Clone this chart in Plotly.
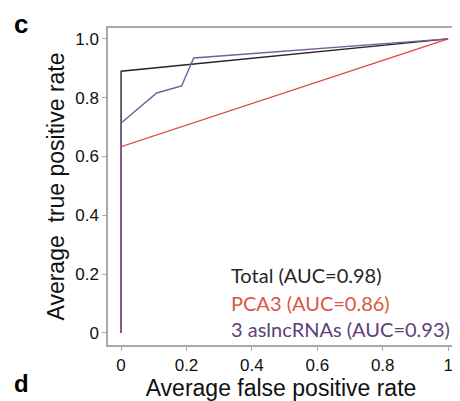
import plotly.graph_objects as go

# Data
total_fpr = [0, 0, 1]
total_tpr = [0, 0.89, 1]
pca3_fpr = [0, 0, 1]
pca3_tpr = [0, 0.633, 1]
lnc_fpr = [0, 0, 0.109, 0.185, 0.222, 1]
lnc_tpr = [0, 0.714, 0.816, 0.840, 0.935, 1]

x_ticks = [0, 0.2, 0.4, 0.6, 0.8, 1]
x_ticktext = ["0", "0.2", "0.4", "0.6", "0.8", "1"]
y_ticks = [0, 0.2, 0.4, 0.6, 0.8, 1.0]
y_ticktext = ["0", "0.2", "0.4", "0.6", "0.8", "1.0"]

legend_labels = ["Total (AUC=0.98)", "PCA3 (AUC=0.86)", "3 aslncRNAs (AUC=0.93)"]

C_TOTAL = "#262626"
C_PCA3 = "#e0473a"
C_LNC = "#7d5a9c"
C_PCA3_TXT = "#d8573f"
C_LNC_TXT = "#5e3f7a"

fig = go.Figure()
fig.add_trace(go.Scatter(x=total_fpr, y=total_tpr, mode="lines",
                         line=dict(color=C_TOTAL, width=1.4), showlegend=False))
fig.add_trace(go.Scatter(x=pca3_fpr, y=pca3_tpr, mode="lines",
                         line=dict(color=C_PCA3, width=1.2), showlegend=False))
fig.add_trace(go.Scatter(x=lnc_fpr, y=lnc_tpr, mode="lines",
                         line=dict(color=C_LNC, width=1.4), showlegend=False))

FONT = "Liberation Sans, Arial, sans-serif"
axis_font = dict(family=FONT, size=17, color="#111")

# page body has an 8px margin: figure is 452x393 so it fills the 460x401 window
fig.update_layout(
    width=452, height=393,
    margin=dict(l=100, r=4, t=20, b=56),
    paper_bgcolor="white", plot_bgcolor="white",
    xaxis=dict(range=[-0.04, 1.018], tickvals=x_ticks, ticktext=x_ticktext,
               showgrid=False, zeroline=False, showline=True, linecolor="#aaaaaa",
               linewidth=1.5, mirror=True, ticks="outside", ticklen=4,
               tickcolor="#aaaaaa", tickfont=axis_font,
               title=dict(text="Average false positive rate",
                          font=dict(family=FONT, size=23, color="#111"),
                          standoff=0)),
    yaxis=dict(range=[-0.041, 1.037], tickvals=y_ticks, ticktext=y_ticktext,
               showgrid=False, zeroline=False, showline=True, linecolor="#aaaaaa",
               linewidth=1.5, mirror=True, ticks="outside", ticklen=4,
               tickcolor="#aaaaaa", tickfont=axis_font,
               title=dict(text="Average&nbsp; true positive rate",
                          font=dict(family=FONT, size=23, color="#111"),
                          standoff=4)),
)

legend_colors = [C_TOTAL, C_PCA3_TXT, C_LNC_TXT]
legend_y = [275, 303, 329]
for lab, col, yp in zip(legend_labels, legend_colors, legend_y):
    fig.add_annotation(text=lab, xref="paper", yref="paper",
                       x=(230 - 108) / 348, y=1 - (yp - 28) / 317,
                       xanchor="left", yanchor="middle", showarrow=False,
                       font=dict(family="Lato, Open Sans, sans-serif", size=20, color=col))

fig.add_annotation(text="<b>c</b>", xref="paper", yref="paper",
                   x=(11 - 108) / 348, y=1 - (24 - 28) / 317, xanchor="left", yanchor="middle",
                   showarrow=False, font=dict(family=FONT, size=26, color="#000"))
fig.add_annotation(text="<b>d</b>", xref="paper", yref="paper",
                   x=(11 - 108) / 348, y=1 - (384 - 28) / 317, xanchor="left", yanchor="middle",
                   showarrow=False, font=dict(family=FONT, size=24, color="#000"))

fig.write_html("out.html")
